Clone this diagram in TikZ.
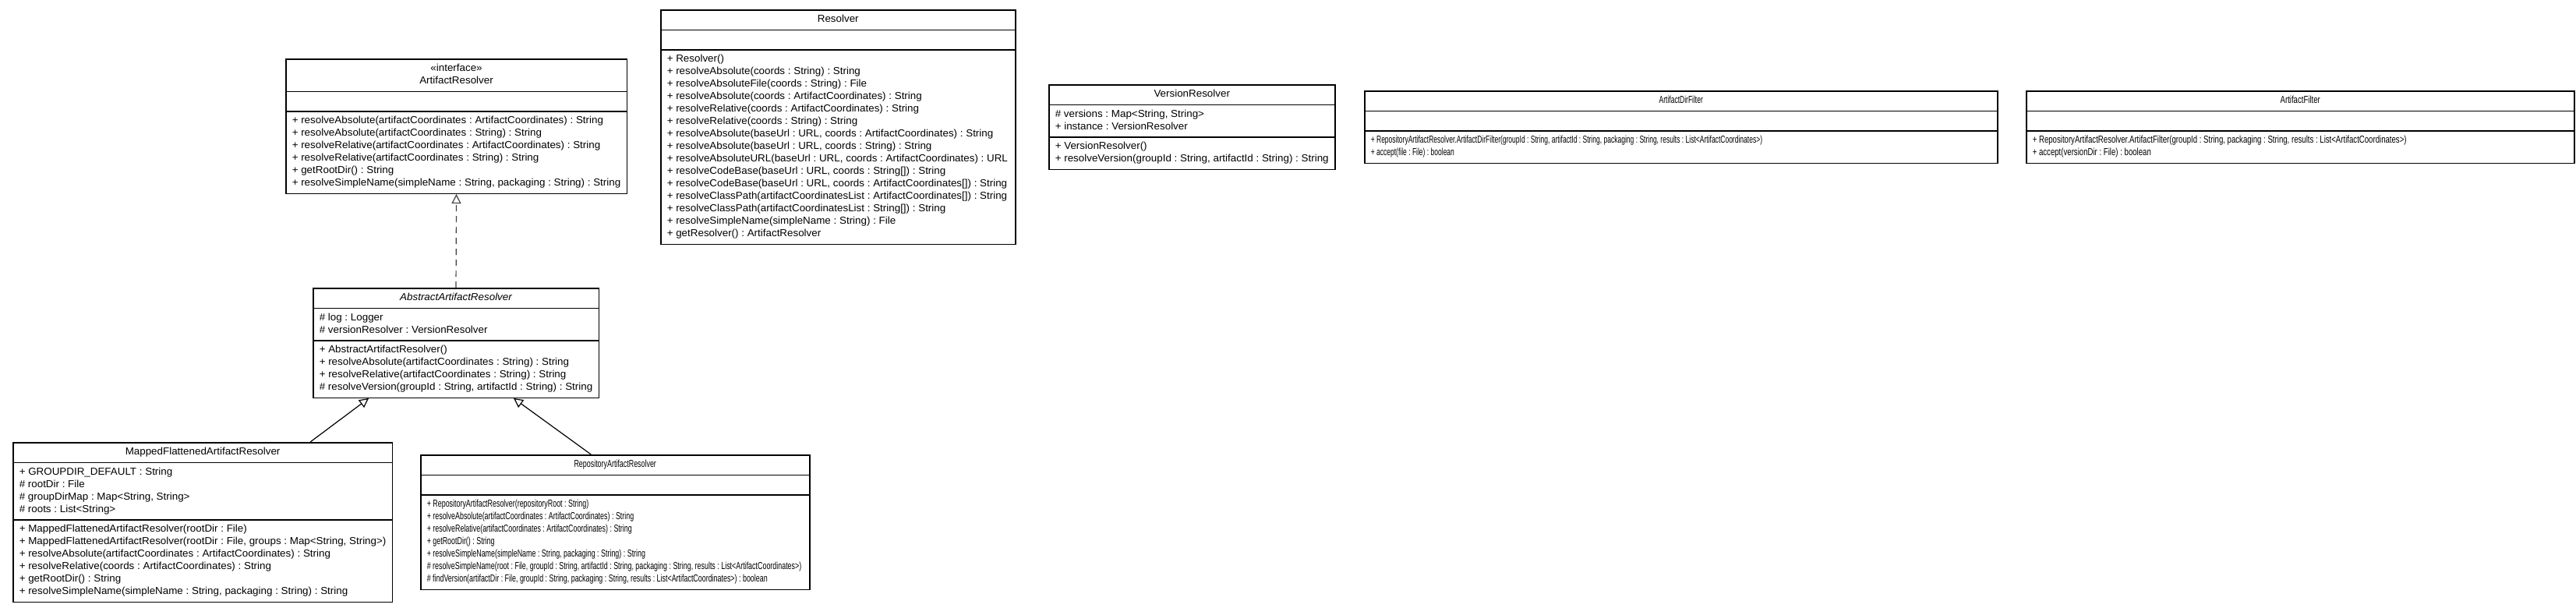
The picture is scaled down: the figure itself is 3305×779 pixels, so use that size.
\documentclass[tikz,border=0pt]{standalone}
\usepackage{fontspec}
\setmainfont{Liberation Sans}
\newfontfamily\umlfont[FakeStretch=1.03]{Liberation Sans}
\newfontfamily\umlnarrow[FakeStretch=0.685]{Liberation Sans}
\newfontfamily\umltight[FakeStretch=0.655]{Liberation Sans}
\newfontfamily\umlfilter[FakeStretch=0.74]{Liberation Sans}
\usetikzlibrary{shapes.multipart,arrows.meta}
\frenchspacing
\tikzset{
  umlclass/.style={draw, line width=1.5pt, rectangle split, rectangle split parts=3,
    rectangle split part align={center,left,left},
    anchor=north west, inner xsep=8pt, inner ysep=4pt, align=left,
    font=\umlfont\fontsize{13}{16}\selectfont},
  narrow/.style={font=#1\fontsize{13}{16}\selectfont},
  inherits/.style={-{Triangle[open,length=12pt,width=12pt]}, line width=1.2pt},
  realizes/.style={inherits, dash pattern=on 8pt off 6pt, draw=black!75}
}
\begin{document}
\begin{tikzpicture}[x=1pt,y=-1pt]
  \useasboundingbox (0,0) rectangle (3305,779);
  % interface and its implementations
  \node[umlclass, minimum width=437pt] (artifactResolver) at (366,75)
    {\begin{tabular}{@{}c@{}}«interface»\\ArtifactResolver\end{tabular}
     \nodepart{two}\strut
     \nodepart{three}\strut + resolveAbsolute(artifactCoordinates : ArtifactCoordinates) : String\\
     \strut + resolveAbsolute(artifactCoordinates : String) : String\\
     \strut + resolveRelative(artifactCoordinates : ArtifactCoordinates) : String\\
     \strut + resolveRelative(artifactCoordinates : String) : String\\
     \strut + getRootDir() : String\\
     \strut + resolveSimpleName(simpleName : String, packaging : String) : String};
  \node[umlclass, minimum width=366pt] (abstractResolver) at (401,369)
    {\strut\itshape AbstractArtifactResolver
     \nodepart{two}\strut \# log : Logger\\
     \strut \# versionResolver : VersionResolver
     \nodepart{three}\strut + AbstractArtifactResolver()\\
     \strut + resolveAbsolute(artifactCoordinates : String) : String\\
     \strut + resolveRelative(artifactCoordinates : String) : String\\
     \strut \# resolveVersion(groupId : String, artifactId : String) : String};
  \node[umlclass, minimum width=483pt] (mappedResolver) at (16,567)
    {\strut MappedFlattenedArtifactResolver
     \nodepart{two}\strut + GROUPDIR\_DEFAULT : String\\
     \strut \# rootDir : File\\
     \strut \# groupDirMap : Map<String, String>\\
     \strut \# roots : List<String>
     \nodepart{three}\strut + MappedFlattenedArtifactResolver(rootDir : File)\\
     \strut + MappedFlattenedArtifactResolver(rootDir : File, groups : Map<String, String>)\\
     \strut + resolveAbsolute(artifactCoordinates : ArtifactCoordinates) : String\\
     \strut + resolveRelative(coords : ArtifactCoordinates) : String\\
     \strut + getRootDir() : String\\
     \strut + resolveSimpleName(simpleName : String, packaging : String) : String};
  \node[umlclass, narrow=\umlnarrow, minimum width=499pt] (repositoryResolver) at (539,583)
    {\strut RepositoryArtifactResolver
     \nodepart{two}\strut
     \nodepart{three}\strut + RepositoryArtifactResolver(repositoryRoot : String)\\
     \strut + resolveAbsolute(artifactCoordinates : ArtifactCoordinates) : String\\
     \strut + resolveRelative(artifactCoordinates : ArtifactCoordinates) : String\\
     \strut + getRootDir() : String\\
     \strut + resolveSimpleName(simpleName : String, packaging : String) : String\\
     \strut \# resolveSimpleName(root : File, groupId : String, artifactId : String, packaging : String, results : List<ArtifactCoordinates>)\\
     \strut \# findVersion(artifactDir : File, groupId : String, packaging : String, results : List<ArtifactCoordinates>) : boolean};
  % standalone classes
  \node[umlclass, minimum width=455pt] (resolver) at (847,12)
    {\strut Resolver
     \nodepart{two}\strut
     \nodepart{three}\strut + Resolver()\\
     \strut + resolveAbsolute(coords : String) : String\\
     \strut + resolveAbsoluteFile(coords : String) : File\\
     \strut + resolveAbsolute(coords : ArtifactCoordinates) : String\\
     \strut + resolveRelative(coords : ArtifactCoordinates) : String\\
     \strut + resolveRelative(coords : String) : String\\
     \strut + resolveAbsolute(baseUrl : URL, coords : ArtifactCoordinates) : String\\
     \strut + resolveAbsolute(baseUrl : URL, coords : String) : String\\
     \strut + resolveAbsoluteURL(baseUrl : URL, coords : ArtifactCoordinates) : URL\\
     \strut + resolveCodeBase(baseUrl : URL, coords : String[]) : String\\
     \strut + resolveCodeBase(baseUrl : URL, coords : ArtifactCoordinates[]) : String\\
     \strut + resolveClassPath(artifactCoordinatesList : ArtifactCoordinates[]) : String\\
     \strut + resolveClassPath(artifactCoordinatesList : String[]) : String\\
     \strut + resolveSimpleName(simpleName : String) : File\\
     \strut + getResolver() : ArtifactResolver};
  \node[umlclass, minimum width=367pt] (versionResolver) at (1345,108)
    {\strut VersionResolver
     \nodepart{two}\strut \# versions : Map<String, String>\\
     \strut + instance : VersionResolver
     \nodepart{three}\strut + VersionResolver()\\
     \strut + resolveVersion(groupId : String, artifactId : String) : String};
  \node[umlclass, narrow=\umltight, minimum width=812pt] (dirFilter) at (1750,116)
    {\strut ArtifactDirFilter
     \nodepart{two}\strut
     \nodepart{three}\strut + RepositoryArtifactResolver.ArtifactDirFilter(groupId : String, artifactId : String, packaging : String, results : List<ArtifactCoordinates>)\\
     \strut + accept(file : File) : boolean};
  \node[umlclass, narrow=\umlfilter, minimum width=703pt] (artifactFilter) at (2599,116)
    {\strut ArtifactFilter
     \nodepart{two}\strut
     \nodepart{three}\strut + RepositoryArtifactResolver.ArtifactFilter(groupId : String, packaging : String, results : List<ArtifactCoordinates>)\\
     \strut + accept(versionDir : File) : boolean};
  % relations
  \draw[realizes] (abstractResolver.north) to (artifactResolver.south);
  \draw[inherits] ([xshift=138pt]mappedResolver.north) to ([xshift=-112pt]abstractResolver.south);
  \draw[inherits] ([xshift=-31pt]repositoryResolver.north) to ([xshift=74pt]abstractResolver.south);
\end{tikzpicture}
\end{document}
